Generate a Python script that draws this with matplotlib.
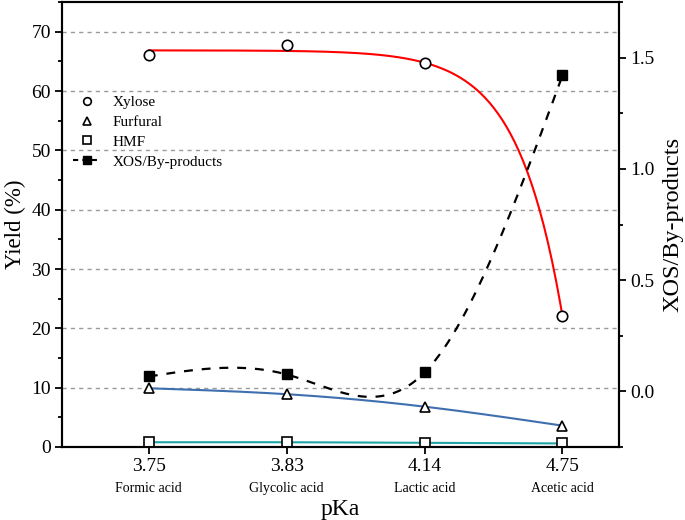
import numpy as np
import matplotlib
matplotlib.use("Agg")
import matplotlib.pyplot as plt
from matplotlib.ticker import MultipleLocator
from matplotlib.lines import Line2D

plt.rcParams['font.family'] = ['Liberation Serif', 'DejaVu Serif']

pka_labels = ["3.75", "3.83", "4.14", "4.75"]
acid_names = ["Formic acid", "Glycolic acid", "Lactic acid", "Acetic acid"]
xylose = [66.0, 67.7, 64.7, 22.1]
furfural = [9.9, 8.9, 6.8, 3.6]
hmf = [0.8, 0.8, 0.7, 0.6]
xos_ratio = [0.067, 0.076, 0.085, 1.42]


def natural_spline(x, y, n=200):
    x = np.asarray(x, float); y = np.asarray(y, float)
    N = len(x); h = np.diff(x)
    A = np.zeros((N, N)); r = np.zeros(N)
    A[0, 0] = 1; A[-1, -1] = 1
    for i in range(1, N - 1):
        A[i, i - 1] = h[i - 1]; A[i, i] = 2 * (h[i - 1] + h[i]); A[i, i + 1] = h[i]
        r[i] = 6 * ((y[i + 1] - y[i]) / h[i] - (y[i] - y[i - 1]) / h[i - 1])
    M = np.linalg.solve(A, r)
    xs = np.linspace(x[0], x[-1], n); ys = np.empty_like(xs)
    for j, xv in enumerate(xs):
        i = min(np.searchsorted(x, xv, side='right') - 1, N - 2)
        t1 = x[i + 1] - xv; t0 = xv - x[i]
        ys[j] = (M[i] * t1**3 + M[i + 1] * t0**3) / (6 * h[i]) \
            + (y[i] / h[i] - M[i] * h[i] / 6) * t1 + (y[i + 1] / h[i] - M[i + 1] * h[i] / 6) * t0
    return xs, ys


def exp_fit(x, y, n=200):
    x = np.asarray(x, float); y = np.asarray(y, float)
    best = None
    for k in np.linspace(0.5, 6, 2000):
        X = np.column_stack([np.ones_like(x), -np.exp(k * x)])
        coef, *_ = np.linalg.lstsq(X, y, rcond=None)
        res = np.sum((X @ coef - y) ** 2)
        if best is None or res < best[0]:
            best = (res, k, coef)
    _, k, (a, b) = best
    xs = np.linspace(x[0], x[-1], n)
    return xs, a - b * np.exp(k * xs)


idx = np.arange(len(pka_labels))

fig = plt.figure(figsize=(6.85, 5.2), dpi=100)
ax = fig.add_axes([0.0905, 0.1404, 0.8131, 0.8556])
ax2 = ax.twinx()

for lvl in range(10, 80, 10):
    ax.axhline(lvl, color='#9a9a9a', lw=1.0, ls=(0, (3, 3)), zorder=0)

xs, ys = exp_fit(idx, xylose)
ax.plot(xs, ys, color='#ff0000', lw=1.5, zorder=2)
xs, ys = natural_spline(idx, furfural)
ax.plot(xs, ys, color='#3f6fae', lw=1.5, zorder=2)
xs, ys = natural_spline(idx, hmf)
ax.plot(xs, ys, color='#1fa5a5', lw=1.5, zorder=2)

mk = dict(ls='none', mfc='white', mec='black', mew=1.2, ms=7.5, zorder=3)
ax.plot(idx, xylose, marker='o', **mk)
ax.plot(idx, furfural, marker='^', **mk)
ax.plot(idx, hmf, marker='s', **mk)

xs, ys = natural_spline(idx, xos_ratio)
ax2.plot(xs, ys, color='black', lw=1.6, ls=(0, (4, 4)))
ax2.plot(idx, xos_ratio, ls='none', marker='s', color='black', ms=7.5)

ax.set_xlim(-0.63, 3.41)

ax.set_xticks(idx)
ax.set_xticklabels(pka_labels)
ax.set_yticks(range(0, 80, 10))
ax.yaxis.set_minor_locator(MultipleLocator(5))
ax.set_ylim(0, 75)
ax2.set_yticks([0.0, 0.5, 1.0, 1.5])
ax2.set_yticklabels(["0.0", "0.5", "1.0", "1.5"])
ax2.yaxis.set_minor_locator(MultipleLocator(0.25))
ax2.set_ylim(-0.25, 1.75)

for a in (ax, ax2):
    a.tick_params(direction='out', which='major', length=5, width=1.3, labelsize=14, pad=3)
    a.tick_params(direction='out', which='minor', length=3, width=1.3)
    for s in a.spines.values():
        s.set_linewidth(1.5)

for i, name in zip(idx, acid_names):
    ax.text(i, -0.078, name, transform=ax.get_xaxis_transform(), ha='center', va='top', fontsize=10)

ax.set_ylabel("Yield (%)", fontsize=16.5, labelpad=4)
ax2.set_ylabel("XOS/By-products", fontsize=17.5, labelpad=6)
ax.set_xlabel("pKa", fontsize=17, labelpad=17)

lm = dict(mfc='white', mec='black', mew=1.2, ms=5.5)
handles = [
    Line2D([], [], ls='none', marker='o', **lm),
    Line2D([], [], ls='none', marker='^', **lm),
    Line2D([], [], ls='none', marker='s', **lm),
    Line2D([], [], color='black', ls=(0, (2.5, 2)), lw=1.5, marker='s', ms=6),
]
ax2.legend(handles, ["Xylose", "Furfural", "HMF", "XOS/By-products"], loc='upper left',
           bbox_to_anchor=(0.02, 0.79), borderaxespad=0, borderpad=0, frameon=False,
           fontsize=11, handlelength=1.8, labelspacing=0.4, handletextpad=0.8)

fig.savefig("out.png", dpi=100)
